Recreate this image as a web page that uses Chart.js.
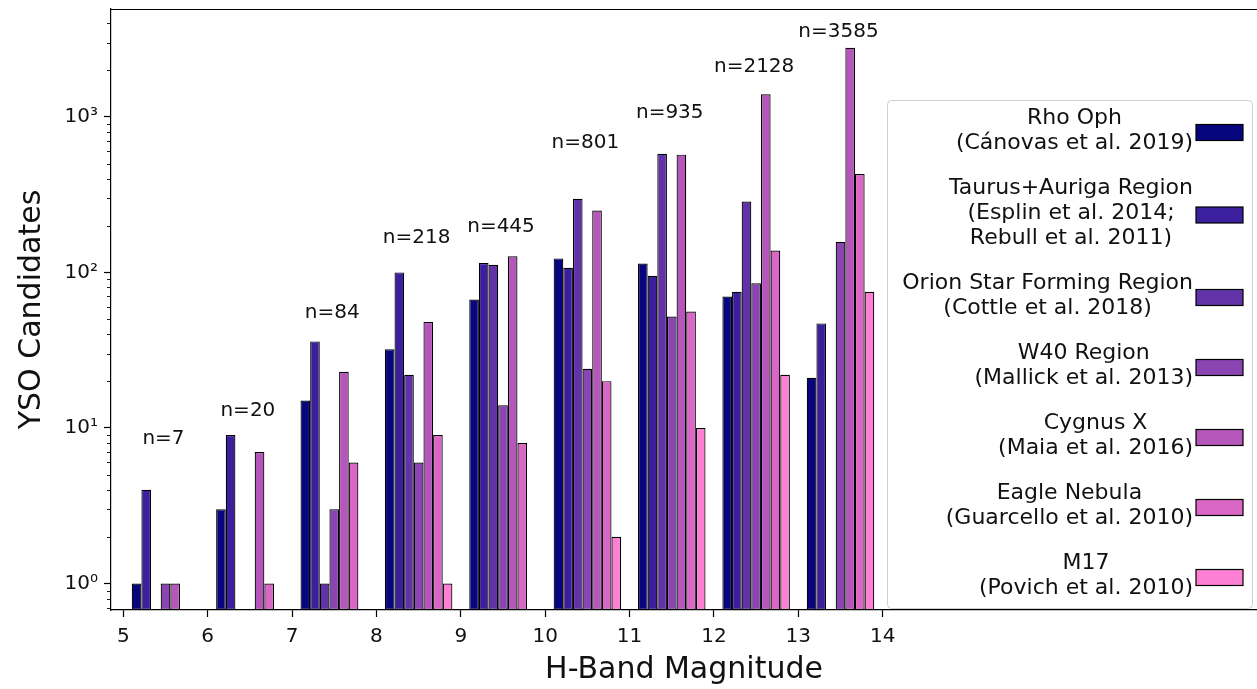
<!DOCTYPE html>
<html>
<head>
<meta charset="utf-8">
<script src="https://cdn.jsdelivr.net/npm/chart.js@4.4.1/dist/chart.umd.min.js"></script>
<style>
  html, body { margin: 0; padding: 0; background: #fff; }
</style>
</head>
<body>
<canvas id="myChart" width="1257" height="689"></canvas>
<script>
// H-band bins (centres of 1 mag bins 5-6 ... 13-14)
const binCenters = [5.5, 6.5, 7.5, 8.5, 9.5, 10.5, 11.5, 12.5, 13.5];
const xTickValues = [5, 6, 7, 8, 9, 10, 11, 12, 13, 14];

// counts per bin, null = empty bin
const rhoOph = [1, 3, 15, 32, 67, 123, 114, 70, 21];
const taurusAuriga = [4, 9, 36, 100, 115, 107, 95, 75, 47];
const orion = [null, null, 1, 22, 112, 297, 579, 285, null];
const w40 = [1, null, 3, 6, 14, 24, 52, 85, 157];
const cygnusX = [1, 7, 23, 48, 127, 250, 571, 1397, 2780];
const eagleNebula = [null, 1, 6, 9, 8, 20, 56, 138, 429];
const m17 = [null, null, null, 1, null, 2, 10, 22, 75];

// totals written above each bin, and the count level where each label sits
const binTotals = [7, 20, 84, 218, 445, 801, 935, 2128, 3585];
const totalLabelAt = [8.5, 12.9, 55, 168, 197, 681, 1061, 2090, 3508];

const seriesLabels = [
  'Rho Oph\n(Cánovas et al. 2019)',
  'Taurus+Auriga Region\n(Esplin et al. 2014;\nRebull et al. 2011)',
  'Orion Star Forming Region\n(Cottle et al. 2018)',
  'W40 Region\n(Mallick et al. 2013)',
  'Cygnus X\n(Maia et al. 2016)',
  'Eagle Nebula\n(Guarcello et al. 2010)',
  'M17\n(Povich et al. 2010)'
];
const seriesColors = ['#07067e', '#3b1f9c', '#6233a8', '#8b45b3', '#b556bb', '#da66c6', '#fe80d4'];

const yTickLabels = { 1: '10⁰', 10: '10¹', 100: '10²', 1000: '10³' };

const allSeries = [rhoOph, taurusAuriga, orion, w40, cygnusX, eagleNebula, m17];

const FONT = "'DejaVu Sans', sans-serif";
const TEXT = '#111';

const datasets = allSeries.map((arr, i) => ({
  label: seriesLabels[i],
  data: binCenters.map((x, j) => ({ x: x, y: arr[j] })),
  backgroundColor: seriesColors[i],
  borderColor: '#000',
  borderWidth: 1.2,
  borderSkipped: false,
  categoryPercentage: 0.8,
  barPercentage: 1.0
}));

// no automatic label padding, the frame is placed by hand
const noPad = scale => {
  scale.paddingTop = 0;
  scale.paddingBottom = 0;
  scale.paddingLeft = 0;
  scale.paddingRight = 0;
};

// extra drawing: top spine, minor ticks, n= labels, legend
const extras = {
  id: 'extras',
  afterDraw(chart) {
    const ctx = chart.ctx;
    const area = chart.chartArea;
    const xs = chart.scales.x;
    const ys = chart.scales.y;
    ctx.save();

    // top spine
    ctx.strokeStyle = '#000';
    ctx.lineWidth = 1.2;
    ctx.beginPath();
    ctx.moveTo(area.left, area.top + 0.5);
    ctx.lineTo(area.right, area.top + 0.5);
    ctx.stroke();

    // minor ticks on log axis
    ctx.lineWidth = 0.9;
    ys.ticks.forEach(t => {
      if (t.major) return;
      const py = Math.round(ys.getPixelForValue(t.value)) + 0.5;
      ctx.beginPath();
      ctx.moveTo(area.left, py);
      ctx.lineTo(area.left - 4, py);
      ctx.stroke();
    });

    // n= labels
    ctx.fillStyle = TEXT;
    ctx.font = '20px ' + FONT;
    ctx.textAlign = 'center';
    ctx.textBaseline = 'middle';
    binCenters.forEach((x, i) => {
      ctx.fillText('n=' + binTotals[i], xs.getPixelForValue(x) - 2, ys.getPixelForValue(totalLabelAt[i]));
    });

    // legend box
    const bx = 887, by = 100, bw = 365, bh = 508;
    ctx.fillStyle = 'rgba(255,255,255,0.85)';
    ctx.strokeStyle = '#d0d0d0';
    ctx.lineWidth = 1;
    ctx.beginPath();
    ctx.roundRect(bx + 0.5, by + 0.5, bw, bh, 4);
    ctx.fill();
    ctx.stroke();

    ctx.font = '22px ' + FONT;
    const lineH = 25, gap = 20, textRight = 1193;
    let top = 105.5;
    seriesLabels.forEach((lab, i) => {
      const lines = lab.split('\n');
      const widths = lines.map(l => ctx.measureText(l).width);
      const maxW = Math.max(...widths);
      const cx = textRight - maxW / 2;
      ctx.fillStyle = TEXT;
      ctx.textAlign = 'center';
      lines.forEach((l, k) => ctx.fillText(l, cx, top + lineH / 2 + k * lineH));
      const mid = top + lines.length * lineH / 2 + 2;
      ctx.fillStyle = seriesColors[i];
      ctx.fillRect(1196, mid - 8, 47, 16);
      ctx.strokeStyle = '#000';
      ctx.lineWidth = 1.2;
      ctx.strokeRect(1196, mid - 8, 47, 16);
      top += lines.length * lineH + gap;
    });

    ctx.restore();
  }
};

const chart = new Chart(document.getElementById('myChart'), {
  type: 'bar',
  data: { datasets: datasets },
  options: {
    responsive: false,
    animation: false,
    devicePixelRatio: 1,
    layout: { padding: { top: 9, right: 0, left: 0, bottom: 0 } },
    plugins: {
      legend: { display: false },
      tooltip: { enabled: false }
    },
    scales: {
      x: {
        type: 'linear',
        offset: false,
        min: 4.854,
        max: 18.436,
        afterBuildTicks: scale => { scale.ticks = xTickValues.map(v => ({ value: v, major: true })); },
        afterFit: scale => { scale.height = 79; noPad(scale); },
        grid: { drawOnChartArea: false, offset: false, tickLength: 7, tickColor: '#000', tickWidth: 1.2 },
        border: { display: true, color: '#000', width: 1.2 },
        ticks: {
          autoSkip: false,
          maxRotation: 0,
          padding: 8,
          color: TEXT,
          font: { family: FONT, size: 20 },
          callback: v => String(v)
        },
        title: {
          display: true,
          text: 'H-Band Magnitude',
          color: TEXT,
          font: { family: FONT, size: 30 },
          padding: { top: 0, bottom: 1 }
        }
      },
      y: {
        type: 'logarithmic',
        min: 0.676,
        max: 4930,
        afterBuildTicks: scale => {
          const t = [];
          for (let d = 0.1; d <= 1000; d *= 10) {
            for (let m = 1; m <= 9; m++) {
              const v = Math.round(d * m * 1000) / 1000;
              if (v >= 0.676 && v <= 4930) t.push({ value: v, major: m === 1 });
            }
          }
          scale.ticks = t;
        },
        afterFit: scale => { scale.width = 111; noPad(scale); },
        grid: {
          drawOnChartArea: false,
          tickLength: 7,
          tickWidth: 1.2,
          tickColor: c => (c.tick && c.tick.major ? '#000' : 'rgba(0,0,0,0)')
        },
        border: { display: true, color: '#000', width: 1.2 },
        ticks: {
          autoSkip: false,
          padding: 6,
          color: TEXT,
          font: { family: FONT, size: 20 },
          callback: (v, i, ticks) => (ticks[i].major ? (yTickLabels[Math.round(v)] || '') : '')
        },
        title: {
          display: true,
          text: 'YSO Candidates',
          color: TEXT,
          font: { family: FONT, size: 30 },
          padding: { top: 14, bottom: 0 }
        }
      }
    }
  },
  plugins: [extras]
});
</script>
</body>
</html>
